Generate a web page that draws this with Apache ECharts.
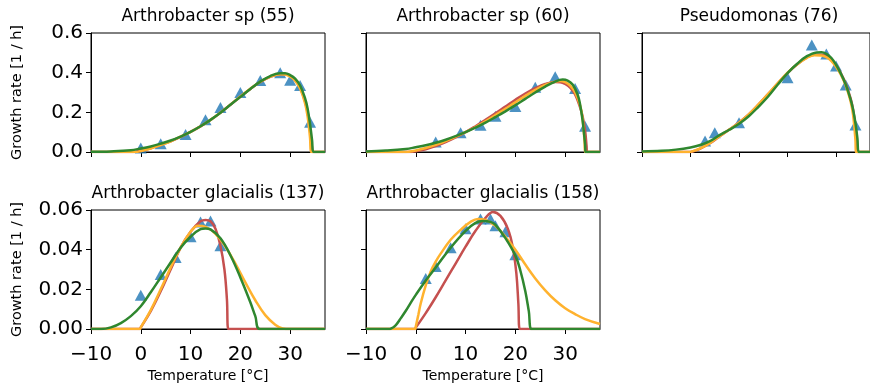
<!DOCTYPE html>
<html>
<head>
<meta charset="utf-8">
<script src="https://cdn.jsdelivr.net/npm/echarts@6/dist/echarts.min.js"></script>
<style>
  html, body { margin: 0; padding: 0; background: #fff; }
  #chart { width: 870px; height: 390px; }
</style>
</head>
<body>
<div id="chart"></div>
<script>
// measured growth rates (triangles)
const temp55 = [0, 4, 9, 13, 16, 20, 24, 28, 30, 32, 34];
const rate55 = [0.02, 0.042, 0.088, 0.162, 0.225, 0.30, 0.36, 0.40, 0.362, 0.335, 0.15];
const temp60 = [4, 9, 13, 16, 20, 24, 28, 32, 34];
const rate60 = [0.05, 0.097, 0.135, 0.18, 0.23, 0.326, 0.38, 0.32, 0.13];
const temp76 = [3, 5, 10, 20, 25, 28, 30, 32, 34];
const rate76 = [0.055, 0.097, 0.148, 0.375, 0.54, 0.494, 0.434, 0.338, 0.136];
const temp137 = [0, 4, 7, 10, 12, 14, 16];
const rate137 = [0.017, 0.0275, 0.036, 0.0465, 0.054, 0.0545, 0.042];
const temp158 = [2, 4, 7, 10, 13, 15, 16, 18, 20];
const rate158 = [0.0255, 0.0315, 0.041, 0.0505, 0.0555, 0.0555, 0.052, 0.049, 0.0375];

// fitted curves, [temperature, rate]
const red55 = [[-10,0],[-1.5,0],[0,0.006],[2,0.019],[4,0.036],[6,0.054],[8,0.076],[10,0.101],[12,0.129],[14,0.161],[16,0.198],[18,0.238],[20,0.279],[22,0.318],[24,0.353],[26,0.379],[28,0.392],[29,0.392],[30,0.382],[31,0.362],[32,0.325],[33,0.255],[33.5,0.2],[34,0.11],[34.4,0.02],[34.5,0],[37,0]];
const orange55 = [[-10,0],[-1,0],[0,0.005],[2,0.018],[4,0.035],[6,0.054],[8,0.077],[10,0.102],[12,0.13],[14,0.162],[16,0.199],[18,0.239],[20,0.28],[22,0.319],[24,0.354],[26,0.38],[28,0.392],[29,0.391],[30,0.38],[31,0.36],[32,0.32],[33,0.245],[33.5,0.18],[34,0.07],[34.2,0],[37,0]];
const green55 = [[-10,0.001],[-6,0.003],[-2,0.009],[0,0.018],[2,0.028],[4,0.042],[6,0.058],[8,0.078],[10,0.102],[12,0.13],[14,0.162],[16,0.198],[18,0.238],[20,0.278],[22,0.318],[24,0.355],[26,0.383],[28,0.397],[29,0.397],[30,0.388],[31,0.37],[32,0.335],[33,0.27],[33.5,0.22],[34,0.14],[34.4,0.06],[34.7,0],[37,0]];

const red60 = [[-10,0],[-1,0],[0,0.004],[2,0.014],[4,0.03],[6,0.05],[8,0.074],[10,0.1],[12,0.13],[14,0.162],[16,0.195],[18,0.229],[20,0.263],[22,0.295],[24,0.322],[26,0.343],[28,0.353],[29,0.352],[30,0.343],[31,0.325],[32,0.29],[33,0.225],[33.5,0.18],[34,0.11],[34.3,0.03],[34.4,0],[37,0]];
const orange60 = [[-10,0],[-2,0],[0,0.008],[2,0.02],[4,0.036],[6,0.055],[8,0.077],[10,0.1],[12,0.126],[14,0.155],[16,0.186],[18,0.218],[20,0.25],[22,0.283],[24,0.313],[26,0.338],[28,0.355],[29,0.358],[30,0.352],[31,0.335],[32,0.3],[33,0.235],[33.5,0.17],[33.9,0.05],[34,0],[37,0]];
const green60 = [[-10,0.003],[-6,0.007],[-2,0.015],[0,0.024],[2,0.034],[4,0.047],[6,0.062],[8,0.08],[10,0.1],[12,0.123],[14,0.148],[16,0.176],[18,0.205],[20,0.236],[22,0.268],[24,0.3],[26,0.33],[28,0.355],[29.5,0.365],[30.5,0.36],[31.5,0.34],[32.5,0.29],[33,0.24],[33.5,0.16],[34,0.04],[34.1,0],[37,0]];

const red76 = [[-10,0],[0,0],[0.3,0.001],[1,0.007],[2,0.017],[4,0.044],[6,0.079],[8,0.113],[10,0.149],[12,0.19],[14,0.239],[16,0.292],[18,0.346],[20,0.398],[22,0.442],[24,0.477],[25.5,0.49],[27,0.49],[28,0.482],[29,0.465],[30,0.437],[31,0.397],[32,0.345],[33,0.27],[33.5,0.215],[34,0.13],[34.3,0.04],[34.4,0],[37,0]];
const orange76 = [[-10,0],[-0.2,0],[0,0.0005],[1,0.008],[2,0.018],[4,0.045],[6,0.08],[8,0.113],[10,0.148],[12,0.19],[14,0.24],[16,0.293],[18,0.348],[20,0.4],[22,0.443],[24,0.475],[25.5,0.488],[27,0.487],[28,0.478],[29,0.46],[30,0.43],[31,0.39],[32,0.335],[33,0.255],[33.5,0.19],[34,0.06],[34.1,0],[37,0]];
const green76 = [[-10,0.003],[-6,0.006],[-3,0.012],[0,0.023],[2,0.035],[4,0.055],[6,0.085],[8,0.112],[10,0.142],[12,0.18],[14,0.228],[16,0.28],[18,0.34],[20,0.398],[22,0.445],[24,0.483],[26,0.502],[27,0.503],[28,0.495],[29,0.475],[30,0.44],[31,0.395],[32,0.34],[33,0.265],[33.5,0.215],[34,0.145],[34.4,0.07],[34.7,0],[37,0]];

const red137 = [[-10,0],[-0.2,0],[0,0.0008],[2,0.009],[4,0.019],[6,0.03],[8,0.041],[10,0.049],[12,0.0543],[13,0.055],[14,0.0543],[15,0.0505],[16,0.042],[16.8,0.03],[17.3,0.015],[17.6,0],[37,0]];
const orange137 = [[-10,0],[-0.2,0],[0,0.0008],[2,0.0095],[4,0.02],[6,0.031],[8,0.041],[10,0.049],[11.5,0.052],[13,0.0515],[15,0.048],[17,0.0415],[19,0.033],[21,0.0235],[23,0.0145],[25,0.007],[27,0.0022],[28.5,0.0003],[30,0],[37,0]];
const green137 = [[-10,0],[-8,0],[-6,0.0008],[-4,0.003],[-2,0.0065],[0,0.0115],[2,0.0185],[4,0.026],[6,0.0335],[8,0.041],[10,0.0465],[12,0.0503],[13,0.0507],[14,0.0502],[16,0.0458],[18,0.0372],[20,0.026],[22,0.0135],[23,0.0065],[24,0],[37,0]];

const red158 = [[-10,0],[-0.2,0],[0,0.0007],[2,0.008],[4,0.016],[6,0.0245],[8,0.033],[10,0.0415],[12,0.0495],[14,0.056],[15.5,0.059],[17,0.057],[18.5,0.0505],[19.5,0.041],[20.2,0.028],[20.6,0.013],[20.9,0],[37,0]];
const orange158 = [[-10,0],[-0.1,0],[0,0.0012],[0.5,0.007],[1,0.013],[2,0.022],[3,0.029],[4,0.034],[5,0.038],[7,0.045],[9,0.05],[11,0.054],[12.5,0.0555],[14,0.055],[16,0.052],[18,0.0465],[20,0.04],[22,0.0325],[24,0.0255],[26,0.0195],[28,0.0145],[30,0.0105],[32,0.0075],[34,0.005],[37,0.0025]];
const green158 = [[-10,0],[-5.5,0],[-5,0.0002],[-4,0.002],[-3,0.0055],[-2,0.0092],[-1,0.0133],[0,0.0172],[2,0.0245],[4,0.031],[7,0.041],[10,0.0495],[12,0.0535],[13.5,0.0545],[15,0.054],[16,0.0525],[18,0.0458],[20,0.037],[21,0.0295],[22,0.019],[22.7,0.009],[23.3,0],[37,0]];

const xTicks = [-10, 0, 10, 20, 30];
const yTicksTop = [0, 0.2, 0.4, 0.6];
const yTicksBottom = [0, 0.02, 0.04, 0.06];

const FONT = 'DejaVu Sans';
const panels = [
    { title: 'Arthrobacter sp (55)', t: temp55, r: rate55, red: red55, orange: orange55, green: green55, left: 91, top: 33, yTicks: yTicksTop, dec: 1, showY: true, showX: false },
    { title: 'Arthrobacter sp (60)', t: temp60, r: rate60, red: red60, orange: orange60, green: green60, left: 366, top: 33, yTicks: yTicksTop, dec: 1, showY: false, showX: false },
    { title: 'Pseudomonas (76)', t: temp76, r: rate76, red: red76, orange: orange76, green: green76, left: 642, top: 33, yTicks: yTicksTop, dec: 1, showY: false, showX: false },
    { title: 'Arthrobacter glacialis (137)', t: temp137, r: rate137, red: red137, orange: orange137, green: green137, left: 91, top: 210, yTicks: yTicksBottom, dec: 2, showY: true, showX: true },
    { title: 'Arthrobacter glacialis (158)', t: temp158, r: rate158, red: red158, orange: orange158, green: green158, left: 366, top: 210, yTicks: yTicksBottom, dec: 2, showY: false, showX: true }
];
const W = 234, H = 119;

const grid = [], xAxis = [], yAxis = [], series = [], graphic = [];

panels.forEach((p, i) => {
    grid.push({ left: p.left, top: p.top, width: W, height: H, show: true, borderColor: '#000', borderWidth: 1 });
    xAxis.push({
        type: 'value', gridIndex: i, min: -10, max: 37,
        name: p.showX ? 'Temperature [°C]' : '', nameLocation: 'middle', nameGap: 40,
        nameTextStyle: { fontFamily: FONT, fontSize: 14, color: '#000' },
        axisLine: { onZero: false, lineStyle: { color: '#000', width: 1 } },
        axisTick: { customValues: xTicks, length: 5, lineStyle: { color: '#000' } },
        axisLabel: {
            show: p.showX, customValues: xTicks, margin: 16,
            fontFamily: FONT, fontSize: 20, color: '#000',
            formatter: v => String(v).replace('-', '\u2212')
        },
        splitLine: { show: false }
    });
    yAxis.push({
        type: 'value', gridIndex: i, min: 0, max: p.yTicks[p.yTicks.length - 1],
        name: p.showY ? 'Growth rate [1 / h]' : '', nameLocation: 'middle', nameGap: 66, nameRotate: 90,
        nameTextStyle: { fontFamily: FONT, fontSize: 14.5, color: '#000' },
        axisLine: { show: true, onZero: false, lineStyle: { color: '#000', width: 1 } },
        axisTick: { show: true, customValues: p.yTicks, length: 5, lineStyle: { color: '#000' } },
        axisLabel: {
            show: p.showY, customValues: p.yTicks, margin: 8,
            fontFamily: FONT, fontSize: 20, color: '#000',
            formatter: v => v.toFixed(p.dec)
        },
        splitLine: { show: false }
    });
    graphic.push({
        type: 'text', x: p.left + W / 2, y: p.top - 16,
        style: { text: p.title, align: 'center', verticalAlign: 'middle', fontFamily: FONT, fontSize: 17, fill: '#000' }
    });
    series.push({
        type: 'scatter', xAxisIndex: i, yAxisIndex: i, z: 2,
        symbol: 'triangle', symbolSize: [12, 11],
        itemStyle: { color: '#1f77b4' },
        data: p.t.map((t, k) => [t, p.r[k]])
    });
    [['red', '#c5504f'], ['orange', '#ffb22e'], ['green', '#2f872f']].forEach(([key, col], k) => {
        series.push({
            type: 'line', xAxisIndex: i, yAxisIndex: i, z: 3 + k,
            data: p[key], showSymbol: false, smooth: 0.4,
            lineStyle: { color: col, width: 2.5 },
            clip: true
        });
    });
});

const chart = echarts.init(document.getElementById('chart'));
chart.setOption({
    animation: false,
    textStyle: { fontFamily: FONT },
    grid, xAxis, yAxis, series, graphic
});
</script>
</body>
</html>
